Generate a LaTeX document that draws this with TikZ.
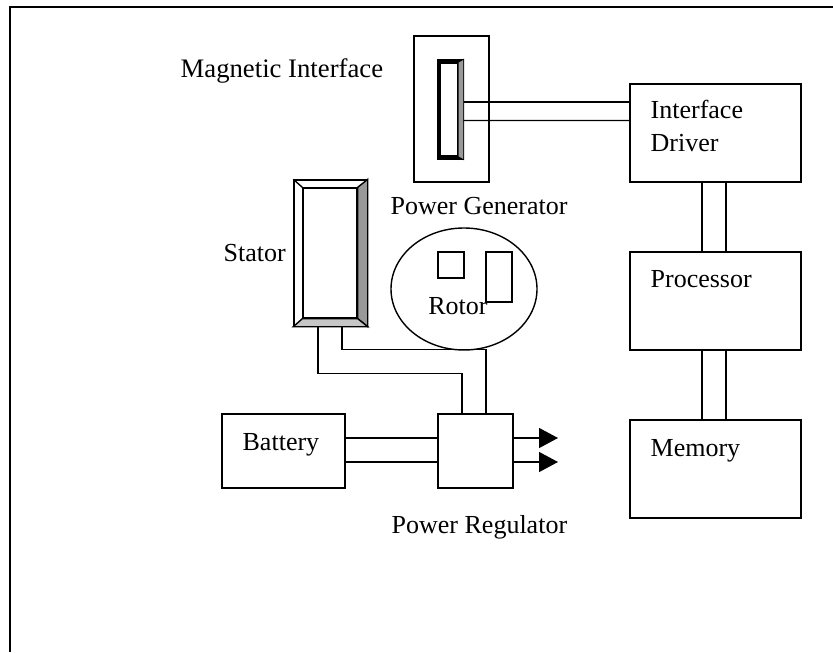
\documentclass[tikz,border=0pt]{standalone}
\usepackage{fontspec}
\setmainfont{Liberation Serif}
\usepackage{tikz}
\usetikzlibrary{calc,shapes.geometric,arrows.meta}
\tikzstyle{block} = [rectangle, draw=black, line width=0.8pt, inner sep=0pt]
\tikzstyle{generator} = [block, minimum width=1.5cm, minimum height=2.92cm]
\tikzstyle{unit} = [block, minimum width=3.42cm, minimum height=1.96cm]
\tikzstyle{lowbox} = [block, minimum height=1.48cm]
\tikzstyle{pole} = [block, minimum width=0.52cm]
\tikzstyle{tag} = [anchor=base west, inner sep=0pt]
\tikzstyle{wire} = [line width=0.8pt]
\tikzstyle{arrow} = [wire,-{Triangle[length=0.38cm,width=0.4cm]}]
\tikzstyle{frame} = [line width=1.1pt]

\begin{document}
\begin{tikzpicture}[node distance=3.36cm, every node/.style={font=\fontsize{14.8}{18.8}\selectfont}]
\useasboundingbox (0,0) rectangle (16.66,13.04);

\draw [frame] (0.2,0) -- (0.2,12.9) -- (16.66,12.9);

\node (gen) [generator] at (9.03,10.86) {};
\node (idriver) [unit,right of=gen,xshift=1.92cm,yshift=-0.48cm] {};
\node (processor) [unit,below of=idriver] {};
\node (memory) [unit,below of=processor] {};

\node (mag) [block,minimum width=0.5cm,minimum height=1.98cm,xshift=-0.02cm,yshift=-0.01cm] at (gen) {};
\node (magin) [block,minimum width=0.34cm,minimum height=1.86cm,xshift=-0.03cm] at (mag) {};
\fill [black] (mag.north west) -- (mag.north east) -- (magin.north east) -- (magin.north west) -- (magin.south west) -- (magin.south east) -- (mag.south east) -- (mag.south west) -- cycle;
\filldraw [fill=gray!80,draw=black,line width=0.4pt] (mag.north east) -- (magin.north east) -- (magin.south east) -- (mag.south east) -- cycle;

\node (stator) [generator,minimum width=1.46cm,below of=gen,xshift=-2.42cm,yshift=0.48cm] {};
\node (statorin) [block,minimum width=1.08cm,minimum height=2.6cm,xshift=-0.01cm] at (stator) {};
\filldraw [wire,fill=gray!80] (stator.north east) -- (statorin.north east) -- (statorin.south east) -- (stator.south east) -- cycle;
\filldraw [wire,fill=gray!45] (stator.south west) -- (statorin.south west) -- (statorin.south east) -- (stator.south east) -- cycle;
\draw [wire] (stator.north west) -- (statorin.north west);

\node (rotor) [ellipse,draw=black,line width=0.8pt,minimum width=2.92cm,minimum height=2.44cm,inner sep=0pt,right of=stator,xshift=-0.69cm,yshift=-0.72cm] {};
\node (poleA) [pole,minimum height=0.52cm,above of=rotor,node distance=0.48cm,xshift=-0.26cm] {};
\node (poleB) [pole,minimum height=1cm,above of=rotor,node distance=0.24cm,xshift=0.7cm] {};

\node (reg) [lowbox,minimum width=1.5cm,below of=rotor,xshift=0.23cm,yshift=0.12cm] {};
\node (battery) [lowbox,minimum width=2.46cm,left of=reg,xshift=-0.48cm] {};
\coordinate (outA) at ($(reg)+(1.65,0.26)$);
\coordinate (outB) at ($(reg)+(1.65,-0.22)$);

\node (magtext) [tag,font=\fontsize{15.2}{18.8}\selectfont,xshift=-4.66cm,yshift=-0.84cm] at (gen.north west) {Magnetic Interface};
\node (gentext) [tag,xshift=-0.46cm,yshift=-0.64cm] at (gen.south west) {Power Generator};
\node (statortext) [tag,xshift=-1.4cm,yshift=-0.16cm] at (stator.west) {Stator};
\node (rotortext) [tag,xshift=-0.72cm,yshift=-0.5cm] at (rotor) {Rotor};
\node (idrivertext) [anchor=north west,align=left,inner sep=0pt,xshift=0.42cm,yshift=-0.34cm] at (idriver.north west) {Interface\\Driver};
\node (processortext) [tag,xshift=0.42cm,yshift=-0.72cm] at (processor.north west) {Processor};
\node (memorytext) [tag,xshift=0.42cm,yshift=-0.74cm] at (memory.north west) {Memory};
\node (batterytext) [tag,xshift=0.42cm,yshift=-0.74cm] at (battery.north west) {Battery};
\node (regtext) [tag,xshift=-0.92cm,yshift=-0.9cm] at (reg.south west) {Power Regulator};

\draw [wire] ([yshift=0.15cm]mag.east) -- ([yshift=0.62cm]idriver.west);
\draw [wire] ([yshift=-0.22cm]mag.east) -- ([yshift=0.25cm]idriver.west);
\draw [wire] ([xshift=-0.27cm]idriver.south) -- ([xshift=-0.27cm]processor.north);
\draw [wire] ([xshift=0.21cm]idriver.south) -- ([xshift=0.21cm]processor.north);
\draw [wire] ([xshift=-0.27cm]processor.south) -- ([xshift=-0.27cm]memory.north);
\draw [wire] ([xshift=0.21cm]processor.south) -- ([xshift=0.21cm]memory.north);

\draw [wire] ([xshift=-0.25cm]stator.south) -- ++(0,-0.93) -| ([xshift=-0.27cm]reg.north);
\draw [wire] ([xshift=0.23cm]stator.south) -- ++(0,-0.45) -| ([xshift=0.21cm]reg.north);

\draw [wire] ([yshift=0.26cm]battery.east) -- ([yshift=0.26cm]reg.west);
\draw [wire] ([yshift=-0.22cm]battery.east) -- ([yshift=-0.22cm]reg.west);
\draw [arrow] ([yshift=0.26cm]reg.east) -- (outA);
\draw [arrow] ([yshift=-0.22cm]reg.east) -- (outB);

\end{tikzpicture}
\end{document}
